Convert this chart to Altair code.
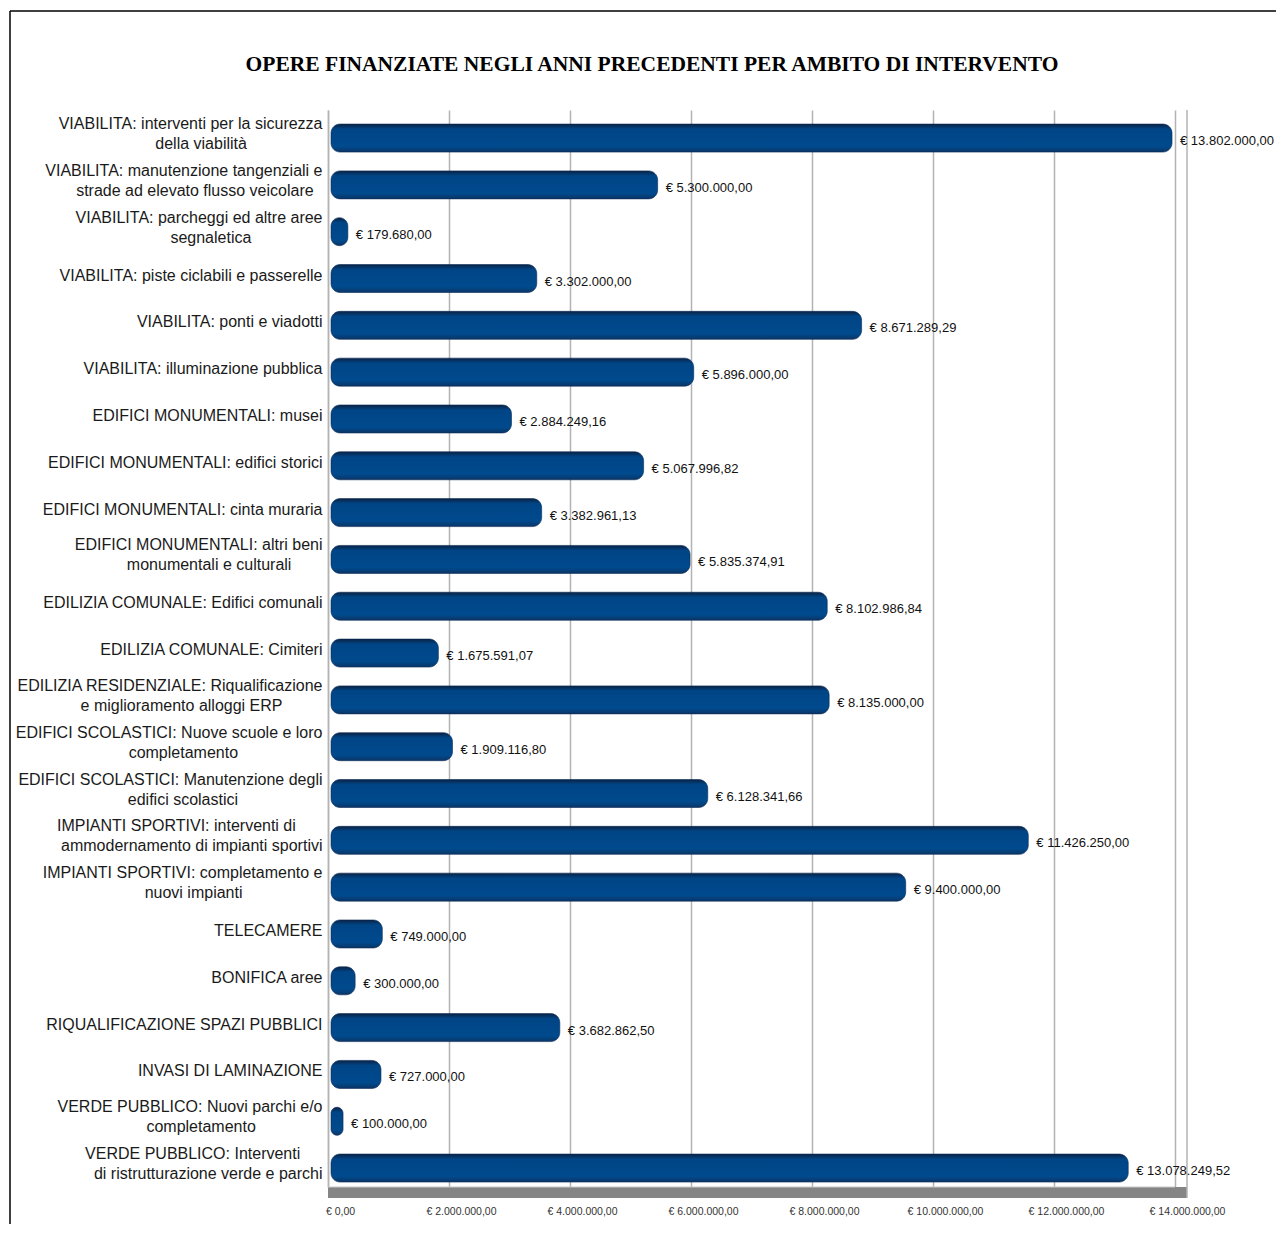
import altair as alt
import pandas as pd

title_text = "OPERE FINANZIATE NEGLI ANNI PRECEDENTI PER AMBITO DI INTERVENTO"

categories = [
    "VIABILITA: interventi per la sicurezza|della viabilità",
    "VIABILITA: manutenzione tangenziali e|strade ad elevato flusso veicolare",
    "VIABILITA: parcheggi ed altre aree|segnaletica",
    "VIABILITA: piste ciclabili e passerelle",
    "VIABILITA: ponti e viadotti",
    "VIABILITA: illuminazione pubblica",
    "EDIFICI MONUMENTALI: musei",
    "EDIFICI MONUMENTALI: edifici storici",
    "EDIFICI MONUMENTALI: cinta muraria",
    "EDIFICI MONUMENTALI: altri beni|monumentali e culturali",
    "EDILIZIA COMUNALE: Edifici comunali",
    "EDILIZIA COMUNALE: Cimiteri",
    "EDILIZIA RESIDENZIALE: Riqualificazione|e miglioramento alloggi ERP",
    "EDIFICI SCOLASTICI: Nuove scuole e loro|completamento",
    "EDIFICI SCOLASTICI: Manutenzione degli|edifici scolastici",
    "IMPIANTI SPORTIVI: interventi di|ammodernamento di impianti sportivi",
    "IMPIANTI SPORTIVI: completamento e|nuovi impianti",
    "TELECAMERE",
    "BONIFICA aree",
    "RIQUALIFICAZIONE SPAZI PUBBLICI",
    "INVASI DI LAMINAZIONE",
    "VERDE PUBBLICO: Nuovi parchi e/o|completamento",
    "VERDE PUBBLICO: Interventi|di ristrutturazione verde e parchi",
]

values = [
    13802000.00, 5300000.00, 179680.00, 3302000.00, 8671289.29, 5896000.00,
    2884249.16, 5067996.82, 3382961.13, 5835374.91, 8102986.84, 1675591.07,
    8135000.00, 1909116.80, 6128341.66, 11426250.00, 9400000.00, 749000.00,
    300000.00, 3682862.50, 727000.00, 100000.00, 13078249.52,
]

x_ticks = [0, 2000000, 4000000, 6000000, 8000000, 10000000, 12000000, 14000000]
x_max = 14000000


def fmt_eur(v):
    s = f"{v:,.2f}".replace(",", "#").replace(".", ",").replace("#", ".")
    return "€ " + s


# approximate Helvetica/Liberation Sans advance widths (per 1000 em) used to
# centre the lines of two-line category labels, as in the original
_W = dict(zip("ABCDEFGHIJKLMNOPQRSTUVWXYZ",
              [667, 667, 722, 722, 667, 611, 778, 722, 278, 500, 667, 556, 833,
               722, 778, 667, 778, 722, 667, 611, 722, 667, 944, 667, 667, 611]))
_W.update(dict(zip("abcdefghijklmnopqrstuvwxyz",
                   [556, 556, 500, 556, 556, 278, 556, 556, 222, 222, 500, 222, 833,
                    556, 556, 556, 556, 333, 500, 278, 556, 500, 722, 500, 500, 500])))
_W.update({" ": 278, ":": 278, "/": 278, ".": 278, ",": 278, "à": 556})
LABEL_SIZE = 16
NBSP = "\u00a0"
ZWSP = "\u200b"  # keeps the padding from being trimmed


def text_w(s):
    return sum(_W.get(c, 556) for c in s) * LABEL_SIZE / 1000.0


def centre_lines(label):
    if "|" not in label:
        return label
    l1, l2 = label.split("|")
    w1, w2 = text_w(l1), text_w(l2)
    space = 278 * LABEL_SIZE / 1000.0
    if w2 <= w1:
        n = max(0, round(((w1 - w2) / 2 - 12) / space))
        return l1 + "|" + l2 + NBSP * n + (ZWSP if n else "")
    n = max(0, round(((w2 - w1) / 2 + 17) / space))
    return l1 + NBSP * n + (ZWSP if n else "") + "|" + l2


df = pd.DataFrame({
    "cat": [centre_lines(c) for c in categories],
    "val": values,
    "lab": [fmt_eur(v) for v in values],
})

W, H = 847, 1077

x_scale = alt.Scale(domain=[0, x_max], nice=False, zero=True)
y_scale = alt.Scale(paddingInner=0.402, paddingOuter=0.203, align=0.74)

x_label_expr = ("'€ ' + replace(replace(replace(format(datum.value, ',.2f'), "
                "regexp(',', 'g'), '#'), regexp('[.]', 'g'), ','), regexp('#', 'g'), '.')")

x_axis = alt.Axis(
    title=None, values=x_ticks, labelExpr=x_label_expr, grid=True,
    gridColor="#b3b3b3", gridWidth=1.5, domain=False, ticks=False,
    labelFont="Liberation Sans", labelFontSize=10.5, labelColor="#333333",
    labelPadding=19, labelOffset=12, labelBaseline="top", labelFlush=False,
    labelOverlap=False,
)
y_axis = alt.Axis(
    title=None, labelExpr="split(datum.label, '|')", labelFont="Liberation Sans",
    labelFontSize=LABEL_SIZE, labelColor="#1a1a1a", labelLineHeight=20, ticks=False,
    domain=True, domainColor="#b3b3b3", domainWidth=1.5, labelPadding=6,
    labelLimit=400, grid=False,
    labelOffset={"condition": {"test": "indexof(datum.label, '|') >= 0", "value": -14}, "value": -3},
)

bar_fill = alt.LinearGradient(
    gradient="linear", x1=0, x2=0, y1=0, y2=1,
    stops=[
        alt.GradientStop(offset=0, color="#0a2244"),
        alt.GradientStop(offset=0.18, color="#004586"),
        alt.GradientStop(offset=0.8, color="#004a8d"),
        alt.GradientStop(offset=1, color="#0b3566"),
    ],
)

base = alt.Chart(df)

bars = base.mark_bar(cornerRadius=9, xOffset=9, x2Offset=3, color=bar_fill,
                     stroke="#0a2a55", strokeWidth=0.6).encode(
    x=alt.X("val:Q", scale=x_scale, axis=x_axis),
    x2=alt.X2(datum=0),
    y=alt.Y("cat:N", sort=None, scale=y_scale, axis=y_axis),
)

labels = base.mark_text(align="left", baseline="middle", dx=17, dy=3,
                        font="Liberation Sans", fontSize=13, color="#111111").encode(
    x=alt.X("val:Q", scale=x_scale),
    y=alt.Y("cat:N", sort=None, scale=y_scale),
    text="lab:N",
)

floor_df = pd.DataFrame({"a": [0], "b": [x_max]})
floor = alt.Chart(floor_df).mark_rect(color="#858585", x2Offset=12).encode(
    x=alt.X("a:Q", scale=x_scale),
    x2="b:Q",
    y=alt.value(H),
    y2=alt.value(H + 11),
)
floor_top = alt.Chart(floor_df).mark_rule(color="#c8c8c8", strokeWidth=1).encode(
    x=alt.X("a:Q", scale=x_scale),
    x2="b:Q",
    y=alt.value(H),
)
back_wall = alt.Chart(floor_df).mark_rule(color="#b3b3b3", strokeWidth=1.5, xOffset=12).encode(
    x=alt.X("b:Q", scale=x_scale),
    y=alt.value(0),
    y2=alt.value(H + 11),
)

frame_df = pd.DataFrame({"k": [1]})
frame_top = alt.Chart(frame_df).mark_rule(color="#000000", strokeWidth=1.5).encode(
    x=alt.value(-318), x2=alt.value(W + 120), y=alt.value(-99)
)
frame_left = alt.Chart(frame_df).mark_rule(color="#000000", strokeWidth=1.5).encode(
    x=alt.value(-318), y=alt.value(-99), y2=alt.value(H + 120)
)

title = alt.Chart(pd.DataFrame({"t": [title_text]})).mark_text(
    font="Liberation Serif", fontWeight="bold", fontSize=21.5, align="center",
    baseline="middle", color="#000000",
).encode(x=alt.value(324), y=alt.value(-45), text="t:N")

chart = alt.layer(floor, floor_top, back_wall, bars, labels, frame_top, frame_left, title).properties(
    width=W, height=H,
    padding={"left": 320, "top": 102, "right": 101, "bottom": 37},
    autosize=alt.AutoSizeParams(type="none"),
    background="#ffffff",
).configure_view(strokeWidth=0)

chart.save("out.html", embed_options={"renderer": "svg", "actions": False})
